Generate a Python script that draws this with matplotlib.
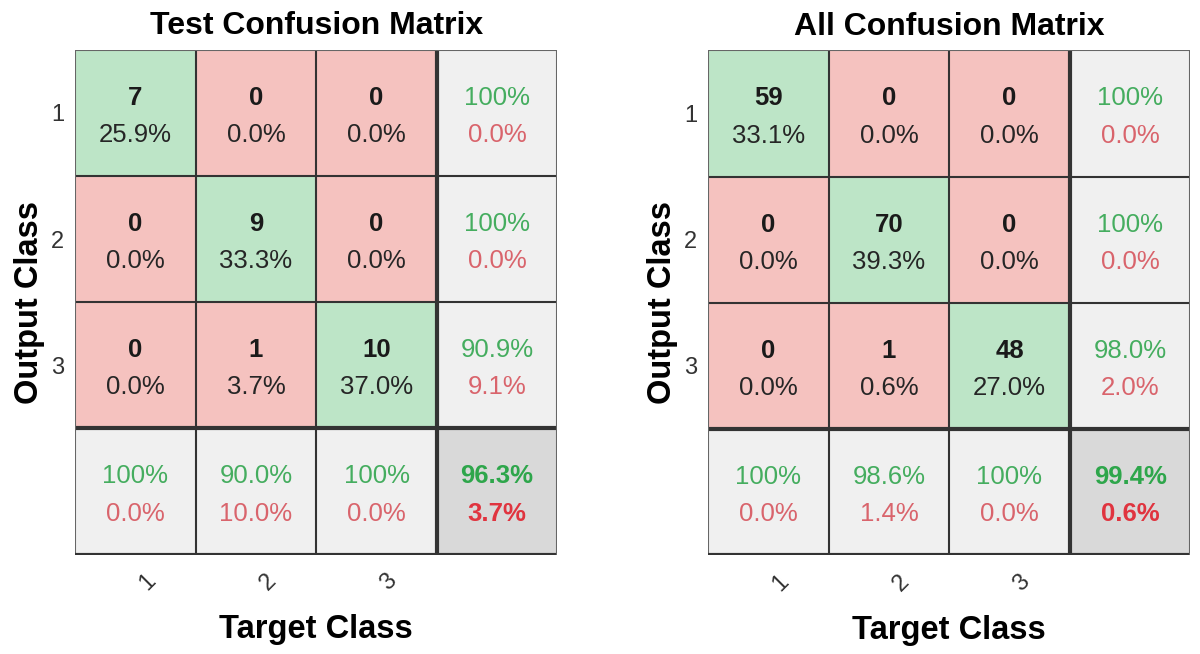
import numpy as np
import matplotlib
matplotlib.use("Agg")
import matplotlib.pyplot as plt
from matplotlib.patches import Rectangle

plt.rcParams['font.family'] = ['Liberation Sans', 'DejaVu Sans']

titles = ["Test Confusion Matrix", "All Confusion Matrix"]
class_labels = ["1", "2", "3"]
test_counts = [[7, 0, 0],
               [0, 9, 0],
               [0, 1, 10]]
all_counts = [[59, 0, 0],
              [0, 70, 0],
              [0, 1, 48]]

GREEN_BG = "#bde5c7"
RED_BG = "#f5c2bf"
GRAY_BG = "#f0f0f0"
DARK_BG = "#d9d9d9"
GREEN_TX = "#45ad5f"
RED_TX = "#d9646c"
GREEN_B = "#2ea64b"
RED_B = "#e0343f"

CELL_FS = 18.5


def fmt(p):
    if abs(p - 100) < 1e-9:
        return "100%"
    return f"{p:.1f}%"


def draw(ax, counts, title):
    c = np.array(counts, dtype=float)
    n = c.shape[0]
    tot = c.sum()
    for i in range(n + 1):
        for j in range(n + 1):
            if i < n and j < n:
                col = GREEN_BG if i == j else RED_BG
            elif i == n and j == n:
                col = DARK_BG
            else:
                col = GRAY_BG
            ax.add_patch(Rectangle((j, i), 1, 1, facecolor=col, edgecolor="none"))
            cx, cy = j + 0.5, i + 0.5
            if i < n and j < n:
                ax.text(cx, cy - 0.12, f"{int(c[i, j])}", ha="center", va="center",
                        fontsize=CELL_FS, fontweight="bold", color="#1a1a1a")
                ax.text(cx, cy + 0.175, fmt(100 * c[i, j] / tot), ha="center", va="center",
                        fontsize=CELL_FS, color="#262626")
            else:
                if i < n:
                    good = c[i, i]; s = c[i, :].sum()
                elif j < n:
                    good = c[j, j]; s = c[:, j].sum()
                else:
                    good = np.trace(c); s = tot
                p = 100 * good / s if s > 0 else 0
                corner = (i == n and j == n)
                ax.text(cx, cy - 0.12, fmt(p), ha="center", va="center", fontsize=CELL_FS,
                        color=GREEN_B if corner else GREEN_TX,
                        fontweight="bold" if corner else "normal")
                ax.text(cx, cy + 0.175, fmt(100 - p), ha="center", va="center", fontsize=CELL_FS,
                        color=RED_B if corner else RED_TX,
                        fontweight="bold" if corner else "normal")
    # grid lines
    for k in range(1, n + 1):
        lw = 3 if k == n else 1.5
        ax.plot([k, k], [0, n + 1], color="#333333", lw=lw, solid_capstyle="butt")
        ax.plot([0, n + 1], [k, k], color="#333333", lw=lw, solid_capstyle="butt")
    ax.plot([0, n + 1], [0, 0], color="#666666", lw=1.5)
    ax.plot([0, 0], [0, n + 1], color="#666666", lw=1.5)
    ax.plot([0, n + 1], [n + 1, n + 1], color="#333333", lw=3)
    ax.plot([n + 1, n + 1], [0, n + 1], color="#666666", lw=1.5)
    ax.set_xlim(0, n + 1)
    ax.set_ylim(n + 1, 0)
    for s in ax.spines.values():
        s.set_visible(False)
    ax.set_xticks(np.arange(n) + 0.5)
    ax.set_xticklabels(class_labels, rotation=45, ha="left", fontsize=17, color="#333333")
    ax.set_yticks(np.arange(n) + 0.5)
    ax.set_yticklabels(class_labels, fontsize=17, color="#333333")
    ax.tick_params(axis="x", length=0, pad=11)
    ax.tick_params(axis="y", length=0, pad=8)
    ax.set_title(title, fontsize=23, fontweight="bold", pad=11)
    ax.set_xlabel("Target Class", fontsize=23.5, fontweight="bold", labelpad=14)
    ax.set_ylabel("Output Class", fontsize=23.5, fontweight="bold", labelpad=4)


fig = plt.figure(figsize=(12, 6.54), dpi=100)
ax1 = fig.add_axes([0.0625, 0.152, 0.402, 0.772])
ax2 = fig.add_axes([0.59, 0.151, 0.402, 0.772])
draw(ax1, test_counts, titles[0])
draw(ax2, all_counts, titles[1])
fig.savefig("out.png", dpi=100, facecolor="white")
